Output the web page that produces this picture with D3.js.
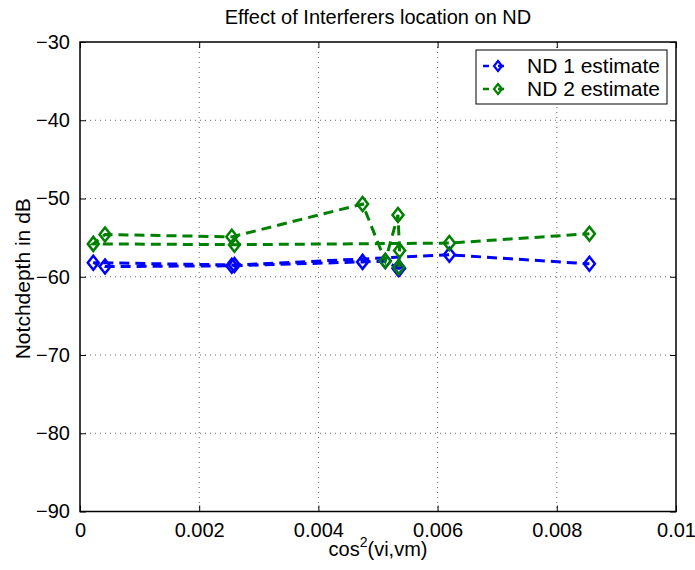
<!DOCTYPE html>
<meta charset="utf-8">
<style>
body { margin: 0; background: #fff; }
text { font-family: "Liberation Sans", Arial, sans-serif; fill: #000; }
.grid line { stroke: #000; stroke-opacity: 0.6; stroke-dasharray: 1,4; stroke-width: 1; }
</style>
<svg width="695" height="570"></svg>
<script src="https://d3js.org/d3.v7.min.js"></script>
<script>

// cos^2 values (unsorted, plotted in measurement order)
var cos2 = [0.005348, 0.005362, 0.005335, 0.005122, 0.004741, 0.002547, 0.000420, 0.000223, 0.002591, 0.006197, 0.008547];
var nd1 = [-59.0, -58.9, -58.9, -58.0, -58.1, -58.6, -58.7, -58.2, -58.5, -57.2, -58.35];
var nd2 = [-58.8, -56.65, -52.1, -58.0, -50.7, -54.9, -54.6, -55.8, -55.9, -55.7, -54.5];

var xTicks = [0, 0.002, 0.004, 0.006, 0.008, 0.01];
var yTicks = [-90, -80, -70, -60, -50, -40, -30];

var series = [
  {name: "ND 1 estimate", values: nd1, color: "#0000ff"},
  {name: "ND 2 estimate", values: nd2, color: "#008000"}
];

var svg = d3.select("svg");
var pLeft = 80, pRight = 676, pTop = 42, pBottom = 511.5;

var x = d3.scaleLinear().domain([0, 0.01]).range([pLeft, pRight]);
var y = d3.scaleLinear().domain([-90, -30]).range([pBottom, pTop]);

// grid
var grid = svg.append("g").attr("class", "grid");
grid.selectAll(".gx").data(xTicks.slice(1, -1)).enter().append("line")
    .attr("x1", d => x(d)).attr("x2", d => x(d))
    .attr("y1", pTop).attr("y2", pBottom);
grid.selectAll(".gy").data(yTicks.slice(1, -1)).enter().append("line")
    .attr("y1", d => y(d)).attr("y2", d => y(d))
    .attr("x1", pLeft).attr("x2", pRight);

// axes, ticks inward on all four sides
var fmtX = d => d === 0 ? "0" : String(+d.toFixed(3));
svg.append("g").attr("transform", "translate(0," + pBottom + ")")
    .call(d3.axisBottom(x).tickValues(xTicks).tickFormat(fmtX).tickSizeInner(-6).tickSizeOuter(0).tickPadding(11));
svg.append("g").attr("transform", "translate(0," + pTop + ")")
    .call(d3.axisTop(x).tickValues(xTicks).tickFormat("").tickSizeInner(-6).tickSizeOuter(0));
svg.append("g").attr("transform", "translate(" + pLeft + ",0)")
    .call(d3.axisLeft(y).tickValues(yTicks).tickSizeInner(-6).tickSizeOuter(0).tickPadding(10));
svg.append("g").attr("transform", "translate(" + pRight + ",0)")
    .call(d3.axisRight(y).tickValues(yTicks).tickFormat("").tickSizeInner(-6).tickSizeOuter(0));

svg.selectAll(".domain").remove();
svg.selectAll(".tick line").attr("stroke", "#000").attr("stroke-width", 1);
svg.selectAll(".tick text").style("font-size", "20px").style("font-family", "Liberation Sans, Arial, sans-serif");

svg.append("rect")
    .attr("x", pLeft).attr("y", pTop)
    .attr("width", pRight - pLeft).attr("height", pBottom - pTop)
    .attr("fill", "none").attr("stroke", "#000").attr("stroke-width", 1.5);

// diamond marker path
function diamond(cx, cy, w, h) {
  return "M" + cx + "," + (cy - h) + "L" + (cx + w) + "," + cy + "L" + cx + "," + (cy + h) + "L" + (cx - w) + "," + cy + "Z";
}

var line = d3.line().x(d => x(d[0])).y(d => y(d[1]));

series.forEach(function(s) {
  var pts = cos2.map((c, i) => [c, s.values[i]]);
  var g = svg.append("g");
  g.append("path").datum(pts)
      .attr("d", line)
      .attr("fill", "none").attr("stroke", s.color)
      .attr("stroke-width", 3).attr("stroke-dasharray", "10,6");
  g.selectAll("path.m").data(pts).enter().append("path")
      .attr("class", "m")
      .attr("d", d => diamond(x(d[0]), y(d[1]), 5.5, 7))
      .attr("fill", "none").attr("stroke", s.color).attr("stroke-width", 2.5);
});

// title and labels
svg.append("text").attr("x", (pLeft + pRight) / 2).attr("y", 24)
    .attr("text-anchor", "middle").style("font-size", "20px")
    .text("Effect of Interferers location on ND");

var xl = svg.append("text").attr("x", (pLeft + pRight) / 2).attr("y", 556)
    .attr("text-anchor", "middle").style("font-size", "20px");
xl.append("tspan").text("cos");
xl.append("tspan").attr("dy", -9).style("font-size", "14px").text("2");
xl.append("tspan").attr("dy", 9).text("(vi,vm)");

svg.append("text")
    .attr("transform", "translate(30," + ((pTop + pBottom) / 2 + 2) + ") rotate(-90)")
    .attr("text-anchor", "middle").style("font-size", "21px")
    .text("Notchdepth in dB");

// legend
var lg = svg.append("g").attr("transform", "translate(476,50)");
lg.append("rect").attr("width", 191).attr("height", 54)
    .attr("fill", "#fff").attr("stroke", "#000").attr("stroke-width", 1);
series.forEach(function(s, i) {
  var ly = 16 + i * 23;
  lg.append("line").attr("x1", 7).attr("x2", 37).attr("y1", ly).attr("y2", ly)
      .attr("stroke", s.color).attr("stroke-width", 2.5).attr("stroke-dasharray", "6,9");
  lg.append("path").attr("d", diamond(22, ly, 4, 5))
      .attr("fill", "none").attr("stroke", s.color).attr("stroke-width", 2.2);
  lg.append("text").attr("x", 51).attr("y", ly + 7).style("font-size", "21px").text(s.name);
});

</script>
